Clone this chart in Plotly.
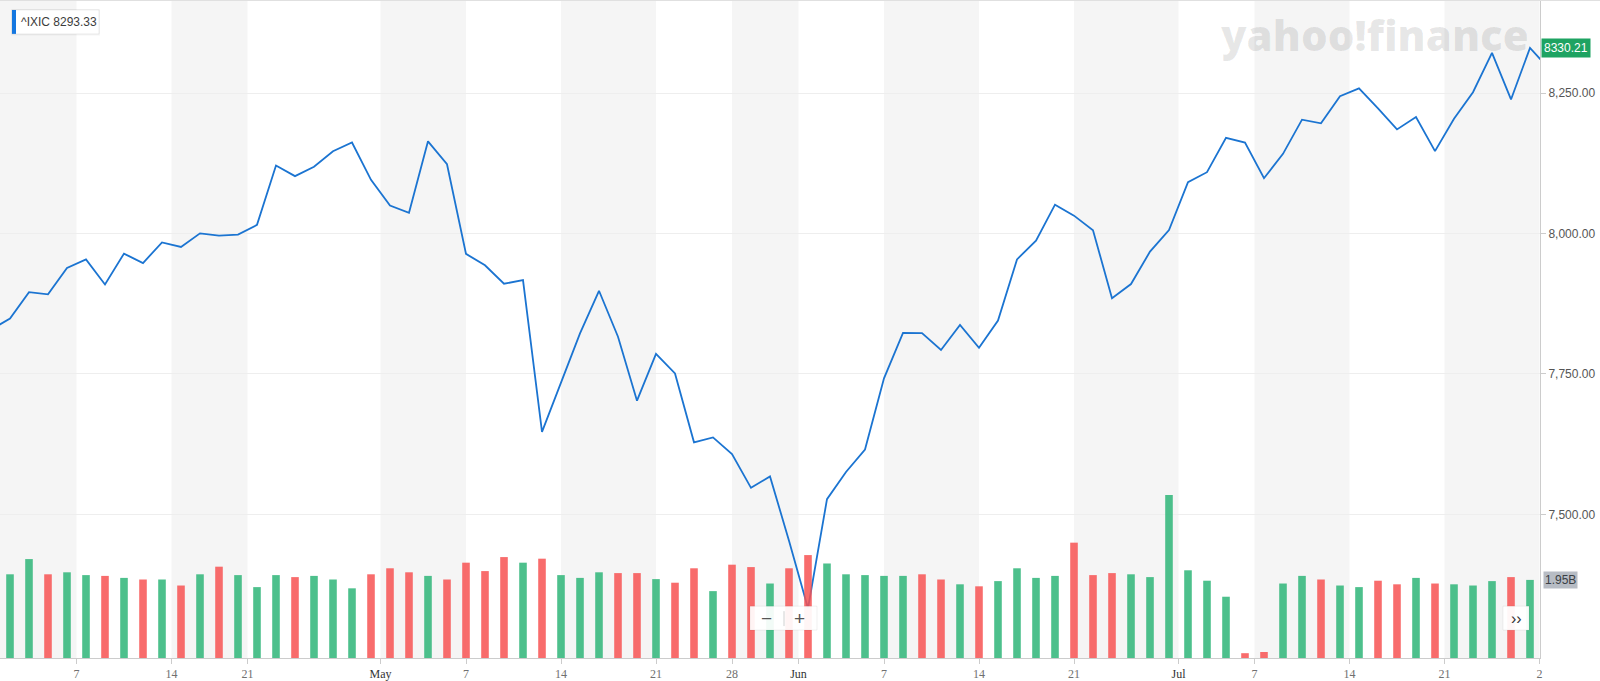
import plotly.graph_objects as go

# ---------------- data ----------------
year = 2019
apr_days = [1, 2, 3, 4, 5, 8, 9, 10, 11, 12, 15, 16, 17, 18, 22, 23, 24, 25, 26, 29, 30]
may_days = [1, 2, 3, 6, 7, 8, 9, 10, 13, 14, 15, 16, 17, 20, 21, 22, 23, 24, 28, 29, 30, 31]
jun_days = [3, 4, 5, 6, 7, 10, 11, 12, 13, 14, 17, 18, 19, 20, 21, 24, 25, 26, 27, 28]
jul_days = [1, 2, 3, 5, 8, 9, 10, 11, 12, 15, 16, 17, 18, 19, 22, 23, 24, 25, 26, 29]

closes = [
    7828.91, 7848.69, 7895.55, 7891.78, 7938.69, 7953.88, 7909.28, 7964.24, 7947.36, 7984.16,
    7976.01, 8000.23, 7996.08, 7998.06, 8015.27, 8120.82, 8102.01, 8118.68, 8146.40, 8161.85,
    8095.39,
    8049.64, 8036.77, 8164.00, 8123.29, 7963.76, 7943.32, 7910.59, 7916.94, 7647.02, 7734.49,
    7822.15, 7898.05, 7816.29, 7702.38, 7785.72, 7750.84, 7628.28, 7637.01, 7607.35, 7547.31,
    7567.72, 7453.15,
    7333.02, 7527.12, 7575.48, 7615.55, 7742.10, 7823.17, 7822.57, 7792.72, 7837.13, 7796.66,
    7845.02, 7953.88, 7987.32, 8051.34, 8031.71, 8005.70, 7884.72, 7909.97, 7967.76, 8006.24,
    8091.16, 8109.09, 8170.23, 8161.79, 8098.38, 8141.73, 8202.53, 8196.04, 8244.14, 8258.19,
    8222.80, 8185.21, 8207.24, 8146.49, 8204.14, 8251.40, 8321.50, 8238.54, 8330.21, 8293.33,
]
prev_close = 7729.32  # close before the first day

volumes_b = [
    2.20, 2.09, 2.47, 2.09, 2.14, 2.07, 2.05, 2.00, 1.96, 1.96, 1.81, 2.09, 2.28, 2.07, 1.77,
    2.07, 2.02, 2.05, 1.96, 1.74, 2.09,
    2.24, 2.14, 2.05, 1.96, 2.38, 2.17, 2.52, 2.38, 2.48, 2.07, 2.00, 2.14, 2.12, 2.12, 1.97,
    1.88, 2.24, 1.67, 2.33, 2.27, 1.86, 2.24,
    2.57, 2.36, 2.09, 2.07, 2.05, 2.05, 2.09, 1.96, 1.84, 1.79, 1.92, 2.24, 2.00, 2.05, 2.88,
    2.07, 2.12, 2.09, 2.02, 4.07,
    2.19, 1.93, 1.53, 0.12, 0.15, 1.86, 2.05, 1.96, 1.81, 1.77, 1.93, 1.84, 2.00, 1.86, 1.84,
    1.81, 1.92, 2.02, 1.95, 1.90,
]

tick_dates = ["2019-04-07", "2019-04-14", "2019-04-21", "2019-05-01", "2019-05-07", "2019-05-14",
              "2019-05-21", "2019-05-28", "2019-06-01", "2019-06-07", "2019-06-14", "2019-06-21",
              "2019-07-01", "2019-07-07", "2019-07-14", "2019-07-21", "2019-07-28"]
tick_labels = ["7", "14", "21", "May", "7", "14", "21", "28", "Jun", "7", "14", "21",
               "Jul", "7", "14", "21", "2"]
month_labels = {"May", "Jun", "Jul"}

symbol = "^IXIC"
price_ticks = [7500, 7750, 8000, 8250]

# ---------------- derived ----------------
dates = ([f"{year}-04-{d:02d}" for d in apr_days] + [f"{year}-05-{d:02d}" for d in may_days] +
         [f"{year}-06-{d:02d}" for d in jun_days] + [f"{year}-07-{d:02d}" for d in jul_days])
idx = list(range(len(dates)))


def tick_position(ds, label):
    first = next(i for i, d in enumerate(dates) if d >= ds)
    if dates[first] == ds and label not in month_labels:
        return first
    return first - 0.5


tick_pos = [tick_position(d, l) for d, l in zip(tick_dates, tick_labels)]
tick_text = [f'<span style="color:#333333">{l}</span>' if l in month_labels else l
             for l in tick_labels]

GREEN = "rgba(46,181,120,0.85)"
RED = "rgba(247,82,82,0.85)"
bar_colors = []
for i, c in enumerate(closes):
    p = prev_close if i == 0 else closes[i - 1]
    bar_colors.append(GREEN if c >= p else RED)

# plot geometry (pixels)
W, H = 1600, 681
PL, PR, PT, PB = 0, 60, 0, 21
PW, PH = W - PL - PR, H - PT - PB
step_px = 19.0
first_px = -9.0  # pixel position of index 0
x_lo = (0 - first_px) / step_px
x_hi = (PW - first_px) / step_px


def px(x):
    return x / PW


def py(y):
    return 1 - y / PH


fig = go.Figure()
fig.add_trace(go.Scatter(x=idx, y=closes, mode="lines", yaxis="y",
                         line=dict(color="#1b74d1", width=1.8), hoverinfo="skip"))
fig.add_trace(go.Bar(x=idx, y=volumes_b, yaxis="y2", width=0.4,
                     marker=dict(color=bar_colors, line=dict(width=0)), hoverinfo="skip"))

shapes = []
# weekly alternating bands
bounds = [x_lo] + tick_pos + [x_hi]
for k in range(len(bounds) - 1):
    if k % 2 == 0:
        shapes.append(dict(type="rect", xref="x", yref="paper", x0=bounds[k], x1=bounds[k + 1],
                           y0=0, y1=1, fillcolor="#f5f5f5", line=dict(width=0), layer="below"))
# top border
shapes.append(dict(type="line", xref="paper", yref="paper", x0=0, x1=W / PW, y0=py(0.5), y1=py(0.5),
                   line=dict(color="#e0e0e0", width=1)))
# legend box
shapes.append(dict(type="rect", xref="paper", yref="paper", x0=px(11), x1=px(100), y0=py(35.5), y1=py(9),
                   fillcolor="rgba(0,0,0,0.04)", line=dict(width=0)))
shapes.append(dict(type="rect", xref="paper", yref="paper", x0=px(12), x1=px(99), y0=py(34), y1=py(10),
                   fillcolor="white", line=dict(color="rgba(0,0,0,0.07)", width=1)))
shapes.append(dict(type="rect", xref="paper", yref="paper", x0=px(12), x1=px(16), y0=py(34), y1=py(10),
                   fillcolor="#1577e0", line=dict(width=0)))
# zoom control
shapes.append(dict(type="rect", xref="paper", yref="paper", x0=px(750), x1=px(817), y0=py(632), y1=py(608),
                   fillcolor="rgba(255,255,255,0.93)", line=dict(color="rgba(0,0,0,0.06)", width=1)))
shapes.append(dict(type="line", xref="paper", yref="paper", x0=px(784), x1=px(784), y0=py(628), y1=py(613),
                   line=dict(color="#d0d0d0", width=1)))
# scroll button
shapes.append(dict(type="rect", xref="paper", yref="paper", x0=px(1503), x1=px(1529), y0=py(632), y1=py(608),
                   fillcolor="rgba(255,255,255,0.95)", line=dict(color="rgba(0,0,0,0.06)", width=1)))

annotations = [
    dict(text="yahoo!finance", xref="paper", yref="paper", x=px(1218), y=py(35), xanchor="left",
         yanchor="middle", showarrow=False,
         font=dict(family="Open Sans", size=42, weight=800, color="rgba(0,0,0,0.095)")),
    dict(text=f"{symbol} {closes[-1]:.2f}", xref="paper", yref="paper", x=px(19), y=py(22),
         xanchor="left", yanchor="middle", showarrow=False,
         font=dict(family="Liberation Sans", size=12, color="#3c3c3c")),
    dict(text=f"{closes[-2]:.2f}", xref="paper", yref="y", x=1, y=closes[-2], xanchor="left",
         xshift=1, yanchor="middle", showarrow=False, bgcolor="#1ea362", borderpad=2,
         font=dict(family="Liberation Sans", size=12, color="white")),
    dict(text=f"{volumes_b[-2]:.2f}B", xref="paper", yref="y2", x=1, y=volumes_b[-2], xanchor="left",
         xshift=3, yanchor="middle", showarrow=False, bgcolor="#b7bcc4", borderpad=1,
         font=dict(family="Liberation Sans", size=12, color="#3a3f45")),
    dict(text="\u2212", xref="paper", yref="paper", x=px(766.5), y=py(620), xanchor="center",
         yanchor="middle", showarrow=False, font=dict(family="Liberation Sans", size=19, color="#555")),
    dict(text="+", xref="paper", yref="paper", x=px(800), y=py(620), xanchor="center",
         yanchor="middle", showarrow=False, font=dict(family="Liberation Sans", size=19, color="#555")),
    dict(text="\u203a\u203a", xref="paper", yref="paper", x=px(1516), y=py(620), xanchor="center",
         yanchor="middle", showarrow=False, font=dict(family="Liberation Sans", size=16, color="#333")),
]

fig.update_layout(
    width=W, height=H,
    margin=dict(l=PL, r=PR, t=PT, b=PB, pad=0),
    plot_bgcolor="white", paper_bgcolor="white",
    showlegend=False,
    hovermode=False,
    xaxis=dict(range=[x_lo, x_hi], tickmode="array", tickvals=tick_pos, ticktext=tick_text,
               ticks="outside", ticklen=5, tickcolor="#cccccc", showline=True, linecolor="#cccccc",
               linewidth=1, showgrid=False, zeroline=False,
               tickfont=dict(family="Liberation Serif", size=12, color="#707070")),
    yaxis=dict(side="right", range=[7244.5, 8415.5], tickmode="array", tickvals=price_ticks,
               tickformat=",.2f", ticks="outside", ticklen=5, tickcolor="#cccccc", showline=True,
               linecolor="#cccccc", linewidth=1, gridcolor="#eeeeee", zeroline=False,
               tickfont=dict(family="Liberation Sans", size=12, color="#555555")),
    yaxis2=dict(overlaying="y", range=[0, 16.43], visible=False),
    shapes=shapes,
    annotations=annotations,
)

fig.write_html("out.html", config={"displayModeBar": False},
               post_script="document.body.style.margin='0';document.body.style.overflow='hidden';")
